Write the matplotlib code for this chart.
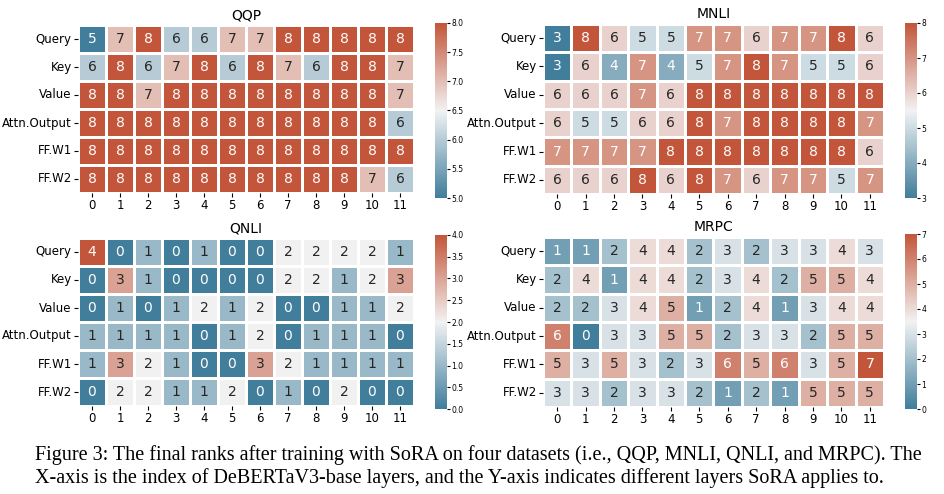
import matplotlib
matplotlib.use('Agg')
import matplotlib.pyplot as plt
import seaborn as sns
import numpy as np

rows = ['Query', 'Key', 'Value', 'Attn.Output', 'FF.W1', 'FF.W2']
layers = list(range(12))

qqp = [
    [5, 7, 8, 6, 6, 7, 7, 8, 8, 8, 8, 8],
    [6, 8, 6, 7, 8, 6, 8, 7, 6, 8, 8, 7],
    [8, 8, 7, 8, 8, 8, 8, 8, 8, 8, 8, 7],
    [8, 8, 8, 8, 8, 8, 8, 8, 8, 8, 8, 6],
    [8, 8, 8, 8, 8, 8, 8, 8, 8, 8, 8, 8],
    [8, 8, 8, 8, 8, 8, 8, 8, 8, 8, 7, 6],
]
mnli = [
    [3, 8, 6, 5, 5, 7, 7, 6, 7, 7, 8, 6],
    [3, 6, 4, 7, 4, 5, 7, 8, 7, 5, 5, 6],
    [6, 6, 6, 7, 6, 8, 8, 8, 8, 8, 8, 8],
    [6, 5, 5, 6, 6, 8, 7, 8, 8, 8, 8, 7],
    [7, 7, 7, 7, 8, 8, 8, 8, 8, 8, 8, 6],
    [6, 6, 6, 8, 6, 8, 7, 6, 7, 7, 5, 7],
]
qnli = [
    [4, 0, 1, 0, 1, 0, 0, 2, 2, 2, 2, 1],
    [0, 3, 1, 0, 0, 0, 0, 2, 2, 1, 2, 3],
    [0, 1, 0, 1, 2, 1, 2, 0, 0, 1, 1, 2],
    [1, 1, 1, 1, 0, 1, 2, 0, 1, 1, 1, 0],
    [1, 3, 2, 1, 0, 0, 3, 2, 1, 1, 1, 1],
    [0, 2, 2, 1, 1, 2, 0, 1, 0, 2, 0, 0],
]
mrpc = [
    [1, 1, 2, 4, 4, 2, 3, 2, 3, 3, 4, 3],
    [2, 4, 1, 4, 4, 2, 3, 4, 2, 5, 5, 4],
    [2, 2, 3, 4, 5, 1, 2, 4, 1, 3, 4, 4],
    [6, 0, 3, 3, 5, 5, 2, 3, 3, 2, 5, 5],
    [5, 3, 5, 3, 2, 3, 6, 5, 6, 3, 5, 7],
    [3, 3, 2, 3, 3, 2, 1, 2, 1, 5, 5, 5],
]

titles = ['QQP', 'MNLI', 'QNLI', 'MRPC']
datasets = [qqp, mnli, qnli, mrpc]

cmap = sns.diverging_palette(230, 20, as_cmap=True)

fig = plt.figure(figsize=(9.45, 4.94), dpi=100)
W, H = 945, 494

def box(x0, y0, x1, y1):
    return [x0 / W, 1 - y1 / H, (x1 - x0) / W, (y1 - y0) / H]

heat_boxes = [box(78, 25, 414, 193), box(543, 24, 884, 194),
              box(78, 238, 414, 406), box(543, 237, 884, 407)]
cbar_boxes = [box(435, 23, 447, 198), box(905, 23, 917, 198),
              box(435, 235, 447, 409), box(905, 234, 917, 409)]

for i in range(4):
    ax = fig.add_axes(heat_boxes[i])
    cax = fig.add_axes(cbar_boxes[i])
    data = np.array(datasets[i])
    sns.heatmap(data, ax=ax, cbar_ax=cax, cmap=cmap, annot=True, fmt='d',
                linewidths=1, linecolor='white',
                xticklabels=layers, yticklabels=rows,
                annot_kws={'fontsize': 10})
    ax.set_title(titles[i], fontsize=10, pad=4)
    ax.tick_params(axis='both', labelsize=8.5, length=3, pad=1.5)
    ax.set_yticklabels(rows, rotation=0)
    cax.tick_params(labelsize=5.5, length=2, pad=1)

# caption, two lines
line1 = ("Figure 3: The final ranks after training with SoRA on four datasets "
         "(i.e., QQP, MNLI, QNLI, and MRPC). The")
line2 = ("X-axis is the index of DeBERTaV3-base layers, and the Y-axis "
         "indicates different layers SoRA applies to.")
fig.text(35 / W, 1 - 460 / H, line1, ha='left', va='baseline',
         family='Liberation Serif', fontsize=14.5)
fig.text(35 / W, 1 - 483 / H, line2, ha='left', va='baseline',
         family='Liberation Serif', fontsize=14.5)

fig.savefig('out.png', dpi=100)
